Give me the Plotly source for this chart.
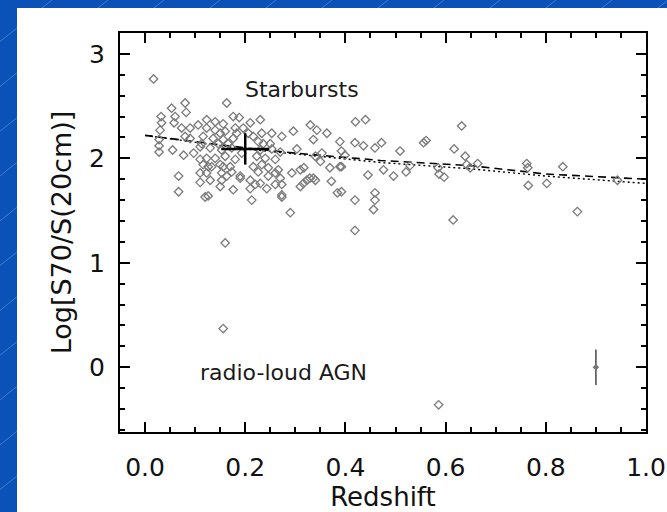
import plotly.graph_objects as go

# ---- data ----
z_pts = [0.017,0.163,0.053,0.080,0.082,0.032,0.060,0.073,0.033,0.058,0.030,0.028,0.028,0.028,0.055,0.077,
         0.067,0.067,0.110,0.110,0.126,0.126,0.130,0.153,0.153,0.156,0.173,0.190,0.213,0.210,0.220,0.230,
         0.216,0.230,0.273,0.273,0.290,0.296,0.330,0.343,0.363,0.336,0.317,0.310,0.316,0.323,0.329,0.293,
         0.336,0.350,0.353,0.372,0.384,0.392,0.389,0.392,0.419,0.419,0.420,0.440,0.419,0.436,0.445,0.459,
         0.472,0.476,0.459,0.459,0.456,0.496,0.509,
         0.090,0.106,0.123,0.140,0.090,0.110,0.097,0.123,0.110,0.080,0.130,
         0.156,0.176,0.188,0.210,0.123,0.140,0.160,0.180,0.196,0.206,0.233,0.253,0.116,0.136,0.156,0.176,
         0.226,0.250,0.153,0.173,0.230,0.253,0.270,0.140,0.160,0.180,0.223,0.240,0.260,0.116,0.150,0.170,
         0.233,0.246,0.266,0.123,0.226,0.260,0.190,0.210,0.150,0.176,0.120,0.273,0.303,0.340,0.369,0.310,
         0.399,0.389,0.392,0.340,0.273,0.260,
         0.113,0.146,0.166,0.193,0.216,0.236,0.183,0.150,0.133,0.163,0.246,0.270,0.243,
         0.521,0.529,0.556,0.561,0.585,0.587,0.597,0.617,0.632,0.639,0.642,0.649,0.664,0.615,0.762,0.764,
         0.765,0.802,0.834,0.863,0.943,
         0.160,0.156,0.586]
ratio_pts = [2.76,2.53,2.48,2.53,2.44,2.40,2.40,2.29,2.34,2.34,2.27,2.18,2.12,2.06,2.08,2.03,
             1.83,1.68,1.86,1.77,1.64,1.92,1.79,1.79,1.86,1.92,1.87,1.83,1.60,1.71,1.75,1.76,
             1.92,2.37,2.21,1.63,1.48,2.26,2.32,2.27,2.24,2.18,1.91,1.73,1.76,1.79,1.81,1.86,
             1.81,1.97,2.05,1.78,1.67,1.92,2.16,2.07,1.60,1.31,2.35,2.37,2.15,2.12,1.84,2.10,
             2.15,1.89,1.67,1.60,1.51,1.83,2.07,
             2.29,2.32,2.37,2.35,2.19,2.11,2.05,2.00,1.99,2.21,2.10,
             2.33,2.40,2.39,2.34,2.29,2.27,2.26,2.29,2.29,2.24,2.24,2.24,2.21,2.19,2.18,2.19,
             2.16,2.14,2.08,2.10,2.08,2.09,2.06,2.00,2.02,1.99,2.02,2.00,1.99,1.94,1.94,1.92,
             1.94,1.91,1.89,1.86,1.87,1.86,1.81,1.79,1.73,1.70,1.63,1.65,2.09,2.02,1.91,1.89,
             2.03,1.92,1.68,1.79,1.75,1.75,
             2.14,2.14,2.14,2.05,2.21,2.14,2.24,2.24,1.92,1.83,1.83,1.81,1.71,
             1.87,1.93,2.15,2.17,1.91,1.85,1.82,2.09,2.31,2.02,1.94,1.91,1.95,1.41,1.95,1.91,
             1.74,1.76,1.92,1.49,1.79,
             1.19,0.37,-0.36]

fit_dash_z = [0.0, 0.1, 0.2, 0.3, 0.47, 0.65, 0.8, 1.0]
fit_dash_y = [2.22, 2.16, 2.10, 2.05, 1.98, 1.93, 1.85, 1.80]
fit_dot_z = [0.0, 0.2, 0.47, 0.65, 0.8, 1.0]
fit_dot_y = [2.22, 2.09, 1.96, 1.90, 1.83, 1.76]

median_z, median_y = [0.2], [2.09]
median_ez, median_ey = [0.048], [0.15]

typ_err_z, typ_err_y, typ_err = [0.9], [0.0], [0.17]

x_ticks = [0.0, 0.2, 0.4, 0.6, 0.8, 1.0]
y_ticks = [0, 1, 2, 3]

FONT = "DejaVu Sans"
W, H = 667, 512
L, R, T, B = 120, 21, 33, 80
pw, ph = W - L - R, H - T - B


def px2paper(px, py):
    return (px - L) / pw, (H - B - py) / ph


fig = go.Figure()

fig.add_trace(go.Scatter(
    x=fit_dash_z, y=fit_dash_y, mode="lines",
    line=dict(color="black", width=1.6, dash="8px,5px"), hoverinfo="skip"))
fig.add_trace(go.Scatter(
    x=fit_dot_z, y=fit_dot_y, mode="lines",
    line=dict(color="black", width=1.4, dash="2px,3px"), hoverinfo="skip"))

fig.add_trace(go.Scatter(
    x=z_pts, y=ratio_pts, mode="markers",
    marker=dict(symbol="diamond-open", size=6.5, color="#7a7a7a", line=dict(width=1.3, color="#7a7a7a"))))

fig.add_trace(go.Scatter(
    x=median_z, y=median_y, mode="markers",
    marker=dict(size=1, color="black"),
    error_x=dict(type="data", array=median_ez, color="black", thickness=2.5, width=0),
    error_y=dict(type="data", array=median_ey, color="black", thickness=2.5, width=0)))

fig.add_trace(go.Scatter(
    x=typ_err_z, y=typ_err_y, mode="markers",
    marker=dict(symbol="diamond", size=5, color="#777777"),
    error_y=dict(type="data", array=typ_err, color="#666666", thickness=1.8, width=0)))

# background: blue slide with faint diagonal streaks, white panel
shapes = []
for x0 in range(-700, 700, 56):
    ax0, ay0 = px2paper(x0, H)
    ax1, ay1 = px2paper(x0 + H / 0.8, 0)
    shapes.append(dict(type="line", xref="paper", yref="paper", x0=ax0, y0=ay0, x1=ax1, y1=ay1,
                       line=dict(color="rgba(170,200,240,0.35)", width=1), layer="below"))
wx0, wy1 = px2paper(17, 8)
wx1, wy0 = px2paper(W + 5, H + 5)
shapes.append(dict(type="rect", xref="paper", yref="paper", x0=wx0, y0=wy0, x1=wx1, y1=wy1,
                   fillcolor="white", line=dict(width=0), layer="below"))

fig.update_layout(
    width=W, height=H,
    margin=dict(l=L, r=R, t=T, b=B, autoexpand=False),
    paper_bgcolor="#0A52B8", plot_bgcolor="white",
    showlegend=False,
    shapes=shapes,
    font=dict(family=FONT, color="#111111"),
    annotations=[
        dict(x=0.313, y=2.66, xref="x", yref="y", text="Starbursts", showarrow=False,
             font=dict(family=FONT, size=22, color="#1a1a1a")),
        dict(x=0.277, y=-0.055, xref="x", yref="y", text="radio-loud AGN", showarrow=False,
             font=dict(family=FONT, size=22, color="#1a1a1a")),
    ],
)

fig.update_xaxes(
    range=[-0.05, 1.0], tickvals=x_ticks, ticktext=[f"{v:.1f}" for v in x_ticks],
    automargin=False,
    showgrid=False, zeroline=False, showline=True, linecolor="black", linewidth=2,
    mirror="ticks", ticks="inside", ticklen=10, tickwidth=2, tickcolor="black",
    minor=dict(dtick=0.05, tick0=0, ticks="inside", ticklen=5, tickwidth=1.5, tickcolor="black"),
    tickfont=dict(family=FONT, size=25, color="#111111"), ticklabelstandoff=12,
    title=dict(text="Redshift", font=dict(family=FONT, size=26, color="#111111"), standoff=8),
)
fig.update_yaxes(
    range=[-0.62, 3.2], tickvals=y_ticks, ticktext=[str(v) for v in y_ticks],
    automargin=False,
    showgrid=False, zeroline=False, showline=True, linecolor="black", linewidth=2,
    mirror="ticks", ticks="inside", ticklen=10, tickwidth=2, tickcolor="black",
    minor=dict(dtick=0.2, tick0=0, ticks="inside", ticklen=5, tickwidth=1.5, tickcolor="black"),
    tickfont=dict(family=FONT, size=25, color="#111111"), ticklabelstandoff=8,
    title=dict(text="Log[S70/S(20cm)]", font=dict(family=FONT, size=27, color="#111111"), standoff=10),
)

fig.write_html("out.html")
